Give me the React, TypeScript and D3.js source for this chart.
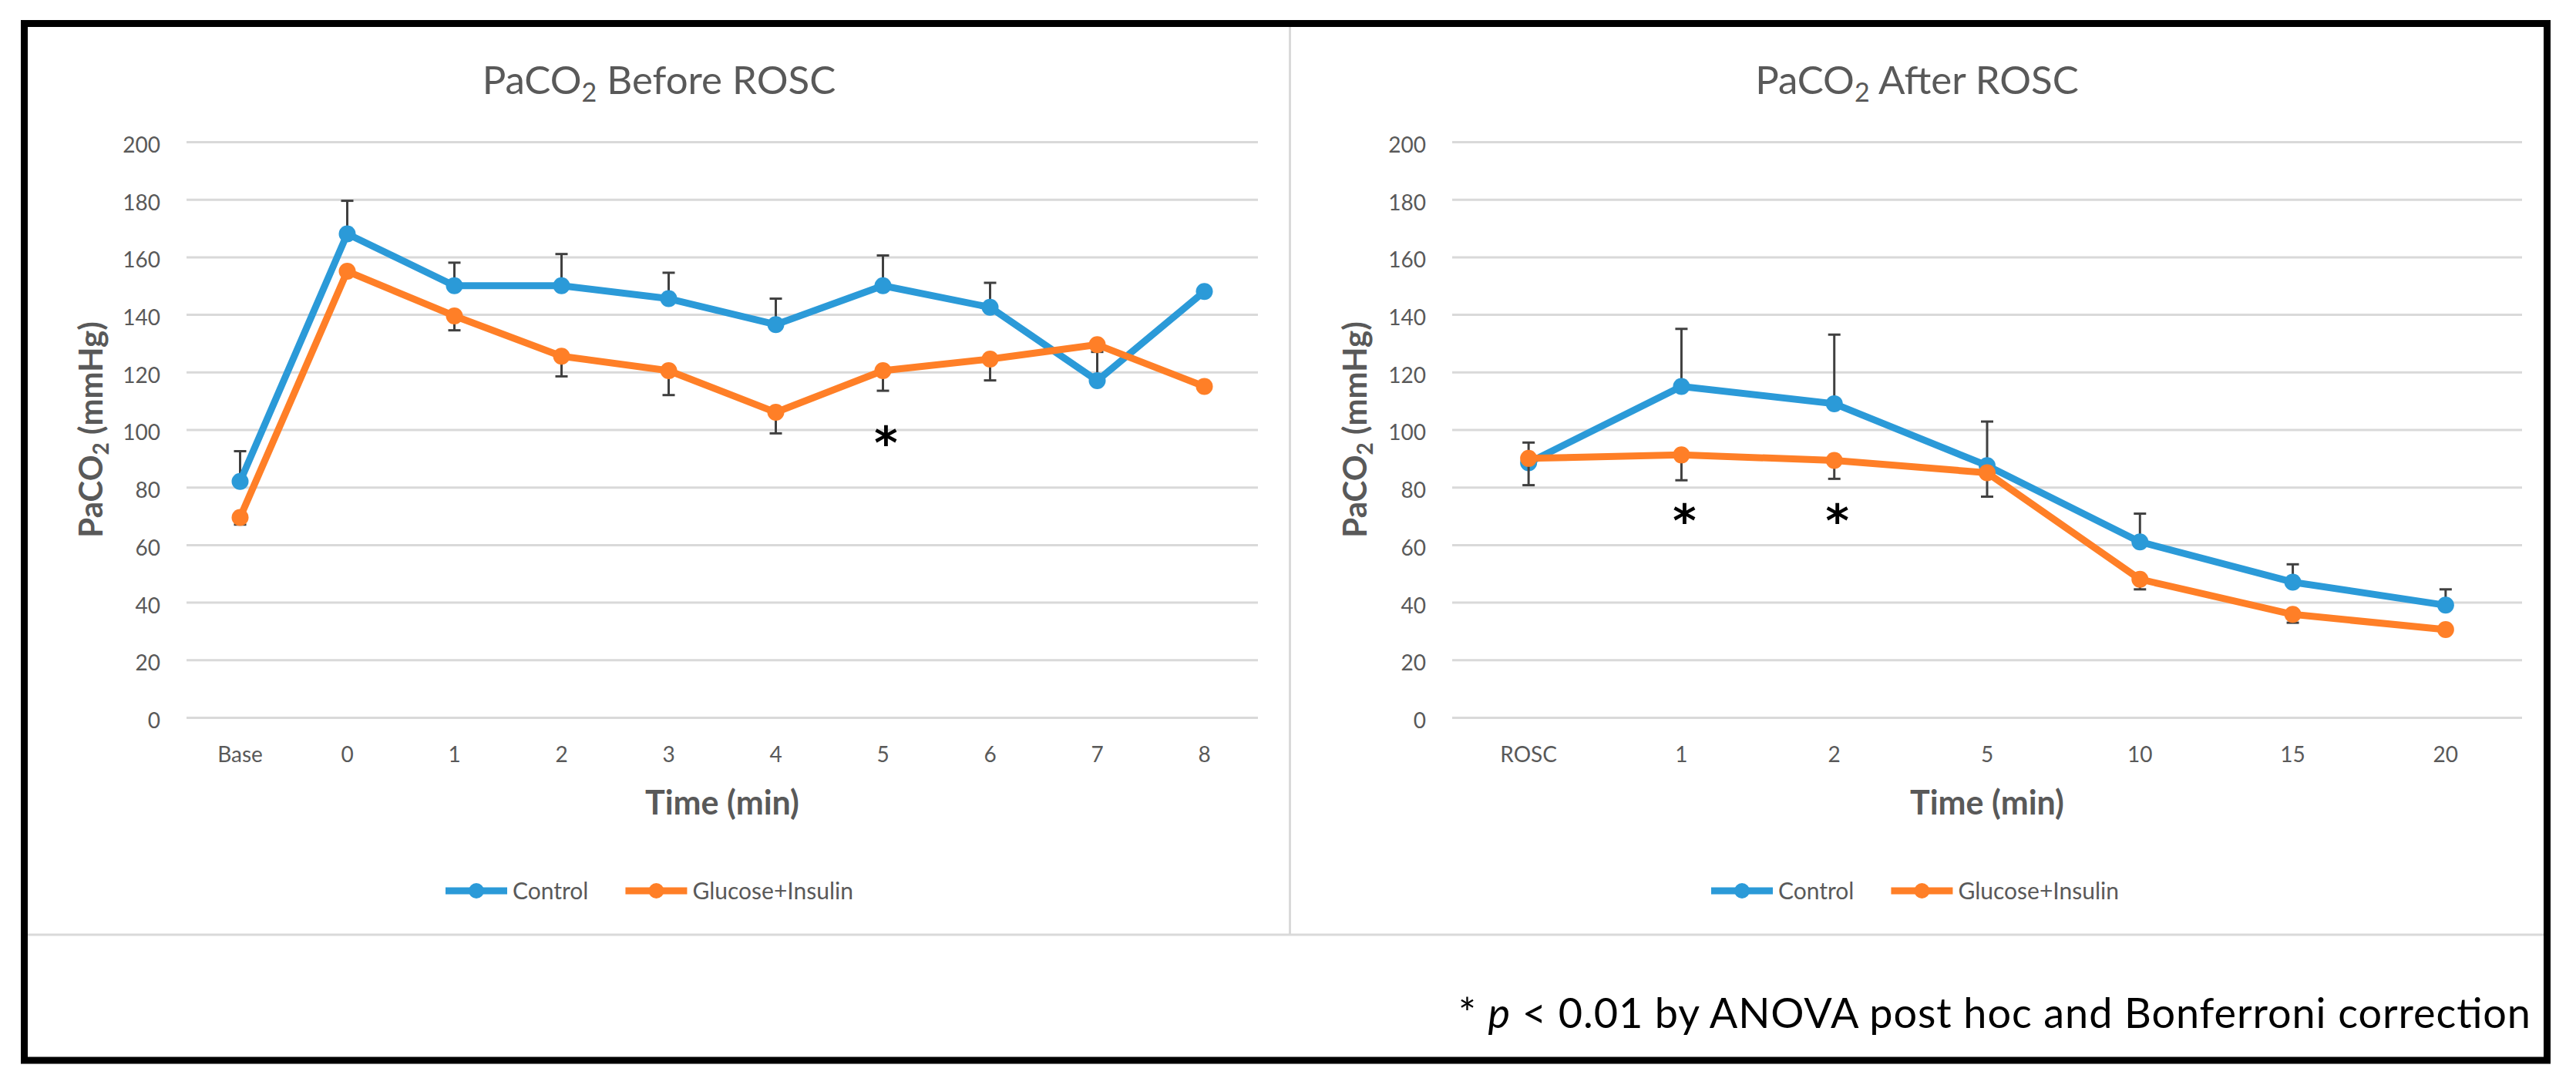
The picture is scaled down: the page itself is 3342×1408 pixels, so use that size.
import React, { useEffect, useRef } from 'react';
import * as d3 from 'd3';

// ---- data ----
const yTicks = [0, 20, 40, 60, 80, 100, 120, 140, 160, 180, 200];
const seriesNames = ['Control', 'Glucose+Insulin'];
const seriesColors = ['#2b9ad8', '#ff7f27'];

// PaCO2 before ROSC
const beforeCategories = ['Base', '0', '1', '2', '3', '4', '5', '6', '7', '8'];
const beforeControl = [82, 168, 150, 150, 145.5, 136.5, 150, 142.5, 117, 148];
const beforeControlErr = [10.5, 11.5, 8, 11, 9, 9, 10.5, 8.5, 10, 0];
const beforeGlucose = [69.5, 155, 139.5, 125.5, 120.5, 106, 120.5, 124.5, 129.5, 115];
const beforeGlucoseErr = [2.5, 0, 5, 7, 8.5, 7.3, 7, 7.4, 0, 0];
const beforeStars = [{ category: '5', value: 98.5 }];

// PaCO2 after ROSC
const afterCategories = ['ROSC', '1', '2', '5', '10', '15', '20'];
const afterControl = [88.5, 115, 109, 87.5, 61, 47, 39];
const afterControlErr = [7, 20, 24, 15.3, 9.8, 6.2, 5.5];
const afterGlucose = [90, 91.2, 89.3, 85, 48, 35.8, 30.5];
const afterGlucoseErr = [9.3, 8.8, 6.4, 8.3, 3.5, 2.9, 0];
const afterStars = [{ category: '1', value: 71.6 }, { category: '2', value: 71.6 }];

const W = 3342;
const H = 1408;
const FONT = 'Lato, "Open Sans", sans-serif';
const GREY_TEXT = '#595959';
const GRID = '#d9d9d9';

interface PanelConfig {
    titleRest: string;
    categories: string[];
    values: number[][];
    errors: number[][];
    stars: { category: string; value: number }[];
    plotLeft: number;
    plotRight: number;
    titleX: number;
    yTitleX: number;
    legendX: number;
}

const drawPanel = (svg: d3.Selection<SVGSVGElement | null, unknown, null, undefined>, cfg: PanelConfig) => {
    const top = 184;
    const bottom = 931;

    const x = d3.scaleBand<string>()
        .domain(cfg.categories)
        .range([cfg.plotLeft, cfg.plotRight])
        .padding(0);

    const y = d3.scaleLinear()
        .domain([0, 200])
        .range([bottom, top]);

    const g = svg.append('g');

    // title
    const title = g.append('text')
        .attr('x', cfg.titleX)
        .attr('y', 122)
        .attr('text-anchor', 'middle')
        .attr('font-size', 51)
        .attr('fill', GREY_TEXT);
    title.append('tspan').text('PaCO');
    title.append('tspan').attr('dy', 10).attr('font-size', 34).text('2');
    title.append('tspan').attr('dy', -10).text('\u00a0' + cfg.titleRest);

    // y axis with gridlines
    const yAxis = g.append('g')
        .attr('transform', `translate(${cfg.plotLeft},0)`)
        .call(d3.axisLeft(y).tickValues(yTicks).tickSize(-(cfg.plotRight - cfg.plotLeft)).tickPadding(34));
    yAxis.select('.domain').remove();
    yAxis.selectAll('line').attr('stroke', GRID).attr('stroke-width', 3);
    yAxis.selectAll('text')
        .attr('dy', '0.48em')
        .attr('font-size', 28)
        .attr('font-family', FONT)
        .attr('fill', GREY_TEXT);

    // x axis labels
    const xAxis = g.append('g')
        .attr('transform', `translate(0,${bottom})`)
        .call(d3.axisBottom(x).tickSize(0));
    xAxis.select('.domain').remove();
    xAxis.selectAll('text')
        .attr('y', 58)
        .attr('dy', 0)
        .attr('font-size', 28)
        .attr('font-family', FONT)
        .attr('fill', GREY_TEXT);

    // axis titles
    g.append('text')
        .attr('x', (cfg.plotLeft + cfg.plotRight) / 2)
        .attr('y', 1057)
        .attr('text-anchor', 'middle')
        .attr('font-size', 43)
        .attr('font-weight', 'bold')
        .attr('fill', GREY_TEXT)
        .text('Time (min)');

    const yTitle = g.append('text')
        .attr('transform', `translate(${cfg.yTitleX},${(top + bottom) / 2}) rotate(-90)`)
        .attr('text-anchor', 'middle')
        .attr('dy', '0.36em')
        .attr('font-size', 42)
        .attr('font-weight', 'bold')
        .attr('fill', GREY_TEXT);
    yTitle.append('tspan').text('PaCO');
    yTitle.append('tspan').attr('dy', 8).attr('font-size', 28).text('2');
    yTitle.append('tspan').attr('dy', -8).text(' (mmHg)');

    const cx = (c: string) => (x(c) as number) + x.bandwidth() / 2;
    const line = d3.line<number>()
        .x((_, i) => cx(cfg.categories[i]))
        .y(d => y(d));

    cfg.values.forEach((vals, s) => {
        const dir = s === 0 ? 1 : -1;
        const errs = cfg.errors[s];
        const eg = g.append('g').attr('stroke', '#404040').attr('stroke-width', 3);
        vals.forEach((v, i) => {
            if (!errs[i]) return;
            const px = cx(cfg.categories[i]);
            const end = y(v + dir * errs[i]);
            eg.append('line').attr('x1', px).attr('x2', px).attr('y1', y(v)).attr('y2', end);
            eg.append('line').attr('x1', px - 8).attr('x2', px + 8).attr('y1', end).attr('y2', end);
        });

        g.append('path')
            .datum(vals)
            .attr('d', line)
            .attr('fill', 'none')
            .attr('stroke', seriesColors[s])
            .attr('stroke-width', 9)
            .attr('stroke-linejoin', 'round');

        g.selectAll(null)
            .data(vals)
            .enter().append('circle')
            .attr('cx', (_, i) => cx(cfg.categories[i]))
            .attr('cy', d => y(d))
            .attr('r', 11)
            .attr('fill', seriesColors[s]);
    });

    // significance marks
    g.selectAll(null)
        .data(cfg.stars)
        .enter().append('text')
        .attr('x', d => cx(d.category) + 4)
        .attr('y', d => y(d.value) + 32)
        .attr('text-anchor', 'middle')
        .attr('font-size', 58)
        .attr('font-weight', 'bold')
        .attr('font-family', '"DejaVu Sans", sans-serif')
        .attr('fill', '#000')
        .text('*');

    // legend
    const lg = g.append('g').attr('transform', `translate(${cfg.legendX},1156)`);
    let off = 0;
    seriesNames.forEach((name, s) => {
        lg.append('line')
            .attr('x1', off).attr('x2', off + 80)
            .attr('stroke', seriesColors[s])
            .attr('stroke-width', 9);
        lg.append('circle').attr('cx', off + 40).attr('r', 10).attr('fill', seriesColors[s]);
        const t = lg.append('text')
            .attr('x', off + 87)
            .attr('dy', '0.36em')
            .attr('font-size', 30)
            .attr('fill', GREY_TEXT)
            .text(name);
        const tw = (t.node() as SVGTextElement).getComputedTextLength();
        off += 87 + tw + 48;
    });
};

const App: React.FC = () => {
    const chartRef = useRef<SVGSVGElement>(null);

    useEffect(() => {
        const svg = d3.select(chartRef.current);
        svg.selectAll('*').remove();

        svg.append('rect').attr('width', W).attr('height', H).attr('fill', '#fff');

        // chart area borders
        svg.append('line')
            .attr('x1', 1673.5).attr('x2', 1673.5).attr('y1', 35).attr('y2', 1213)
            .attr('stroke', GRID).attr('stroke-width', 3);
        svg.append('line')
            .attr('x1', 36).attr('x2', 3301).attr('y1', 1213).attr('y2', 1213)
            .attr('stroke', GRID).attr('stroke-width', 3);

        drawPanel(svg, {
            titleRest: 'Before ROSC',
            categories: beforeCategories,
            values: [beforeControl, beforeGlucose],
            errors: [beforeControlErr, beforeGlucoseErr],
            stars: beforeStars,
            plotLeft: 242,
            plotRight: 1632,
            titleX: 855,
            yTitleX: 118,
            legendX: 578,
        });

        drawPanel(svg, {
            titleRest: 'After ROSC',
            categories: afterCategories,
            values: [afterControl, afterGlucose],
            errors: [afterControlErr, afterGlucoseErr],
            stars: afterStars,
            plotLeft: 1884,
            plotRight: 3272,
            titleX: 2487,
            yTitleX: 1758,
            legendX: 2220,
        });

        // footnote
        const note = svg.append('text')
            .attr('x', 3283)
            .attr('y', 1334)
            .attr('text-anchor', 'end')
            .attr('font-size', 54)
            .attr('textLength', 1391)
            .attr('lengthAdjust', 'spacing')
            .attr('fill', '#000');
        note.append('tspan').text('* ');
        note.append('tspan').attr('font-style', 'italic').text('p');
        note.append('tspan').text(' < 0.01 by ANOVA post hoc and Bonferroni correction');

        // outer frame
        svg.append('rect')
            .attr('x', 31.5).attr('y', 30.5)
            .attr('width', 3273).attr('height', 1345.5)
            .attr('fill', 'none')
            .attr('stroke', '#000')
            .attr('stroke-width', 9);
    }, []);

    return (
        <svg
            ref={chartRef}
            width={W}
            height={H}
            style={{ position: 'absolute', left: 0, top: 0, fontFamily: FONT }}
        ></svg>
    );
};

export default App;
